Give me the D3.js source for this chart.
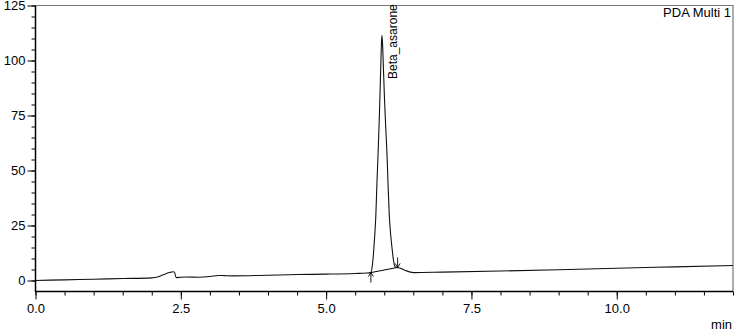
<!DOCTYPE html>
<meta charset="utf-8">
<style>
  body { margin: 0; background: #fff; }
  svg text { font-family: "Liberation Sans", Arial, sans-serif; fill: #000; }
  .axis path { display: none; }
  .axis line { stroke: #000; }
  .axis text { font-size: 13px; }
</style>
<svg width="744" height="333"></svg>
<script src="https://d3js.org/d3.v7.min.js"></script>
<script>
  // chromatogram trace: [time (min), intensity]
  var trace = [
    [0.0, 0.0], [0.5, 0.3], [1.0, 0.6], [1.5, 0.9], [2.0, 1.2], [2.1, 1.6],
    [2.2, 2.6], [2.3, 3.6], [2.37, 4.0], [2.39, 3.8], [2.42, 1.3], [2.5, 1.5],
    [2.6, 1.6], [2.8, 1.5], [3.0, 1.8], [3.15, 2.3], [3.25, 2.2], [3.4, 2.1],
    [4.0, 2.4], [4.5, 2.7], [5.0, 2.9], [5.5, 3.2], [5.7, 3.4], [5.77, 3.7],
    [5.80, 8], [5.82, 14], [5.84, 22], [5.856, 30], [5.875, 45], [5.893, 57],
    [5.91, 70], [5.924, 82], [5.94, 97], [5.952, 108], [5.96, 111.4],
    [5.97, 108], [5.985, 97], [6.005, 82], [6.025, 70], [6.048, 57],
    [6.065, 44], [6.086, 30], [6.11, 21], [6.137, 14], [6.16, 9], [6.18, 6.5],
    [6.21, 5.9], [6.25, 5.8], [6.3, 5.3], [6.38, 4.4], [6.45, 3.8], [6.5, 3.6],
    [7.0, 3.8], [8.0, 4.3], [9.0, 4.9], [10.0, 5.6], [11.0, 6.2], [12.0, 6.8]
  ];

  // peak info
  var peakName = "Beta_asarone";
  var peakApex = [5.96, 111.4];
  var peakStart = [5.77, 3.6];
  var peakEnd = [6.23, 5.95];

  var yTicks = [0, 25, 50, 75, 100, 125];
  var xTicks = [0, 2.5, 5, 7.5, 10];
  var detectorLabel = "PDA Multi 1";
  var xUnit = "min";

  var svg = d3.select("svg");

  var x = d3.scaleLinear().domain([0, 12]).range([35.5, 733]);
  var y = d3.scaleLinear().domain([-5, 125]).range([291.5, 5.5]);

  // frame: grey top and right
  svg.append("path")
    .attr("d", "M" + x(0) + "," + y(125) + "H" + x(12) + "V" + y(-5))
    .attr("fill", "none")
    .attr("stroke", "#777")
    .attr("stroke-width", 1.2);

  // y axis minor ticks
  svg.append("g")
    .attr("class", "axis")
    .attr("transform", "translate(" + x(0) + ",0)")
    .call(d3.axisLeft(y).tickValues(d3.range(0, 126, 5)).tickSize(4).tickFormat(""));

  // y axis major ticks
  svg.append("g")
    .attr("class", "axis")
    .attr("transform", "translate(" + x(0) + ",0)")
    .call(d3.axisLeft(y).tickValues(yTicks).tickSize(8).tickPadding(2).tickFormat(d3.format("d")));

  // x axis minor ticks
  svg.append("g")
    .attr("class", "axis")
    .attr("transform", "translate(0," + y(-5) + ")")
    .call(d3.axisBottom(x).tickValues(d3.range(0, 12.01, 0.5)).tickSize(4).tickFormat(""));

  // x axis major ticks
  svg.append("g")
    .attr("class", "axis")
    .attr("transform", "translate(0," + y(-5) + ")")
    .call(d3.axisBottom(x).tickValues(xTicks).tickSize(8).tickPadding(4).tickFormat(d3.format(".1f")));

  // axis lines (black, left and bottom)
  svg.append("path")
    .attr("d", "M" + x(0) + "," + y(125) + "V" + y(-5) + "H" + x(12))
    .attr("fill", "none")
    .attr("stroke", "#000")
    .attr("stroke-width", 1.5);

  // integration baseline under the peak
  svg.append("line")
    .attr("x1", x(peakStart[0])).attr("y1", y(peakStart[1]))
    .attr("x2", x(peakEnd[0])).attr("y2", y(peakEnd[1]))
    .attr("stroke", "#000");

  // trace
  var line = d3.line()
    .x(function(d) { return x(d[0]); })
    .y(function(d) { return y(d[1]); })
    .curve(d3.curveMonotoneX);

  svg.append("path")
    .datum(trace)
    .attr("d", line)
    .attr("fill", "none")
    .attr("stroke", "#111")
    .attr("stroke-width", 1.1);

  // start / end markers
  function arrow(t, v, dir) {
    var px = x(t), py = y(v);
    var tail = py + dir * 10;
    var head = "M" + (px - 2.5) + "," + (py + dir * 4) + "L" + px + "," + py + "L" + (px + 2.5) + "," + (py + dir * 4);
    svg.append("path")
      .attr("d", "M" + px + "," + tail + "V" + py + head)
      .attr("fill", "none")
      .attr("stroke", "#000")
      .attr("stroke-width", 0.9);
  }
  arrow(peakStart[0], peakStart[1], 1);
  arrow(peakEnd[0], peakEnd[1], -1);

  // peak label
  svg.append("text")
    .attr("transform", "translate(" + (x(peakApex[0]) + 15) + ",79) rotate(-90)")
    .style("font-size", "12px")
    .text(peakName);

  svg.append("text")
    .attr("x", 731)
    .attr("y", 17)
    .attr("text-anchor", "end")
    .style("font-size", "13px")
    .text(detectorLabel);

  svg.append("text")
    .attr("x", 732)
    .attr("y", 329)
    .attr("text-anchor", "end")
    .style("font-size", "13px")
    .text(xUnit);
</script>
